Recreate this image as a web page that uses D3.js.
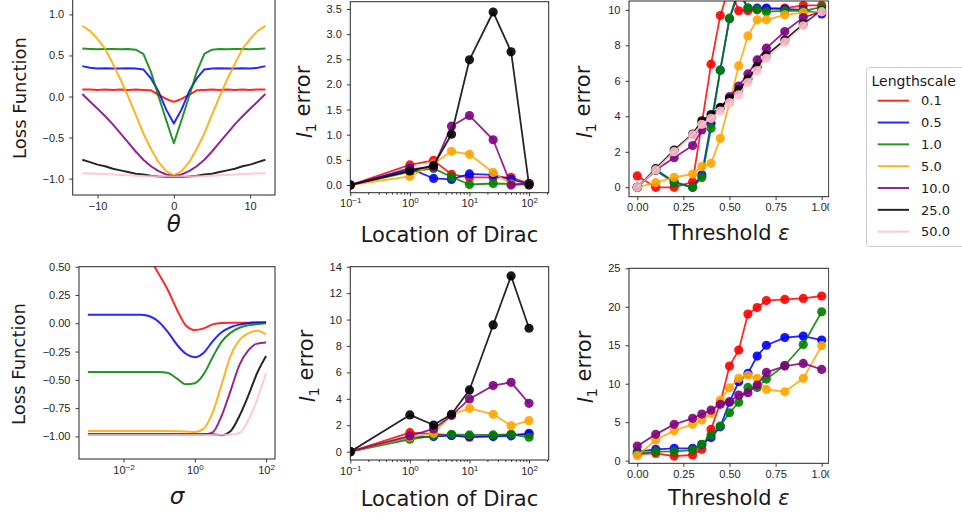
<!DOCTYPE html>
<html>
<head>
<meta charset="utf-8">
<script src="https://cdn.jsdelivr.net/npm/d3@7"></script>
<style>
body { margin: 0; background: #fff; }
svg { font-family: "DejaVu Sans", sans-serif; display: block; }
.tick text { font-size: 11px; fill: #262626; }
.domain { display: none; }
.tick line { stroke: #262626; stroke-width: 0.9; }
</style>
</head>
<body>
<div id="graph"></div>
<script>
var width = 962, height = 519;

var lengthscales = ["0.1", "0.5", "1.0", "5.0", "10.0", "25.0", "50.0"];
var colors = ["#ff0000", "#0000ff", "#008000", "#ffa500", "#800080", "#000000", "#ffc0cb"];

// top left: loss vs theta
var theta = [-12,-11,-10,-9,-8,-7,-6,-5,-4,-3,-2,-1,0,1,2,3,4,5,6,7,8,9,10,11,12];
var lossTheta = [
  [0.085,0.085,0.08,0.085,0.08,0.085,0.08,0.085,0.08,0.075,0.02,-0.03,-0.065,-0.03,0.02,0.075,0.08,0.085,0.08,0.085,0.08,0.085,0.08,0.085,0.085],
  [0.37,0.35,0.34,0.345,0.34,0.34,0.345,0.34,0.33,0.22,0.06,-0.16,-0.33,-0.16,0.06,0.22,0.33,0.34,0.345,0.34,0.34,0.345,0.34,0.35,0.37],
  [0.585,0.58,0.575,0.58,0.58,0.575,0.58,0.57,0.52,0.30,0.0,-0.29,-0.57,-0.29,0.0,0.30,0.52,0.57,0.58,0.575,0.58,0.58,0.575,0.58,0.585],
  [0.86,0.80,0.70,0.58,0.40,0.21,0.0,-0.22,-0.45,-0.64,-0.80,-0.91,-0.96,-0.91,-0.80,-0.64,-0.45,-0.22,0.0,0.21,0.40,0.58,0.70,0.80,0.86],
  [0.03,-0.06,-0.15,-0.24,-0.34,-0.45,-0.56,-0.67,-0.77,-0.85,-0.91,-0.95,-0.97,-0.95,-0.91,-0.85,-0.77,-0.67,-0.56,-0.45,-0.34,-0.24,-0.15,-0.06,0.03],
  [-0.77,-0.80,-0.83,-0.85,-0.88,-0.90,-0.92,-0.94,-0.95,-0.965,-0.975,-0.98,-0.98,-0.98,-0.975,-0.965,-0.95,-0.94,-0.92,-0.90,-0.88,-0.85,-0.83,-0.80,-0.77],
  [-0.935,-0.937,-0.94,-0.945,-0.95,-0.955,-0.96,-0.965,-0.97,-0.972,-0.975,-0.975,-0.975,-0.975,-0.975,-0.972,-0.97,-0.965,-0.96,-0.955,-0.95,-0.945,-0.94,-0.937,-0.935]
];

// bottom left: loss vs sigma
var sigma = [0.001,0.00316,0.01,0.0316,0.0562,0.1,0.178,0.316,0.562,1,1.78,3.16,5.62,10,17.8,31.6,56.2,100];
var lossSigma = [
  [2.0,1.5,1.1,0.72,0.57,0.43,0.29,0.12,-0.02,-0.06,-0.045,-0.01,0.003,0.005,0.005,0.005,0.007,0.007],
  [0.075,0.075,0.075,0.075,0.06,0.01,-0.08,-0.19,-0.27,-0.30,-0.26,-0.16,-0.08,-0.035,-0.012,0.0,0.007,0.01],
  [-0.43,-0.43,-0.43,-0.43,-0.43,-0.43,-0.44,-0.49,-0.54,-0.53,-0.45,-0.30,-0.165,-0.085,-0.04,-0.018,-0.008,0.0],
  [-0.952,-0.952,-0.952,-0.952,-0.952,-0.952,-0.953,-0.955,-0.957,-0.962,-0.93,-0.79,-0.545,-0.29,-0.15,-0.09,-0.066,-0.10],
  [-0.982,-0.982,-0.982,-0.982,-0.982,-0.982,-0.982,-0.982,-0.982,-0.982,-0.982,-0.965,-0.82,-0.60,-0.37,-0.24,-0.18,-0.17],
  [-0.982,-0.982,-0.982,-0.982,-0.982,-0.982,-0.982,-0.982,-0.982,-0.982,-0.982,-0.982,-0.99,-0.955,-0.82,-0.64,-0.44,-0.29],
  [-0.985,-0.985,-0.985,-0.985,-0.985,-0.985,-0.985,-0.985,-0.985,-0.985,-0.985,-0.985,-0.985,-0.985,-0.97,-0.86,-0.675,-0.44]
];

// middle column: l1 error vs location of dirac
var dirac = [0.1, 1, 2.5, 5, 10, 25, 50, 100];
var errDiracTop = [
  [0, 0.40, 0.49, 0.21, 0.15, 0.15, 0.15, 0.03],
  [0, 0.33, 0.13, 0.11, 0.22, 0.20, 0.11, 0.02],
  [0, 0.26, 0.33, 0.16, 0.01, 0.03, 0.02, 0.03],
  [0, 0.17, 0.42, 0.67, 0.61, 0.25, 0.02, 0.0],
  [0, 0.31, 0.36, 1.17, 1.38, 0.90, 0.0, 0.03],
  [0, 0.28, 0.39, 1.01, 2.49, 3.44, 2.65, 0.0]
];
var errDiracBottom = [
  [0, 1.44, 1.35, 1.25, 1.09, 1.20, 1.30, 1.30],
  [0, 1.10, 1.14, 1.22, 1.14, 1.14, 1.20, 1.39],
  [0, 0.94, 1.20, 1.31, 1.27, 1.27, 1.31, 1.09],
  [0, 1.10, 1.39, 2.80, 3.28, 2.83, 1.97, 2.35],
  [0, 1.19, 1.72, 2.73, 3.99, 5.00, 5.25, 3.66],
  [0, 2.78, 2.02, 2.83, 4.67, 9.59, 13.3, 9.34]
];

// right column: l1 error vs threshold
var eps = [0, 0.1, 0.2, 0.3, 0.35, 0.4, 0.45, 0.5, 0.55, 0.6, 0.65, 0.7, 0.8, 0.9, 1.0];
var errEpsTop = [
  [0.64,0.0,0.0,0.3,3.6,6.94,9.68,11.3,9.95,9.95,10.0,10.05,10.1,10.25,10.25],
  [0,1.0,0.3,0.0,0.7,3.6,6.6,9.5,11.0,10.1,10.1,10.1,10.05,10.0,9.77],
  [0,0.95,0.26,0.0,0.55,3.33,6.6,9.53,11.2,10.1,10.04,9.9,9.94,9.94,10.15],
  [0,0.26,0.56,0.75,1.17,1.35,2.76,4.77,6.84,8.53,9.44,9.44,9.72,9.85,9.9],
  [0,0.98,1.67,2.35,3.23,3.89,4.45,5.11,5.71,6.39,7.18,7.84,8.78,9.57,9.9],
  [0,1.05,2.1,3.0,3.75,4.1,4.5,5.0,5.5,6.1,6.8,7.45,8.3,9.2,9.95],
  [0,0.98,2.01,2.95,3.55,3.89,4.30,4.77,5.21,5.9,6.58,7.27,8.18,9.1,9.9]
];
var errEpsBottom = [
  [0.87,0.95,0.6,0.74,1.47,4.07,7.5,12.3,14.37,19.05,19.9,20.8,20.95,21.08,21.4],
  [1.17,1.47,1.6,1.6,2.1,3.0,4.4,7.6,10.26,11.34,13.6,15.0,16.0,16.2,15.67],
  [0.95,1.17,1.21,1.39,2.12,3.33,4.5,6.23,7.58,9.52,9.52,10.6,12.4,15.1,19.35],
  [0.65,2.68,3.9,4.72,5.28,6.15,7.88,9.48,10.7,11.1,10.7,9.26,8.96,10.7,14.94],
  [1.9,3.42,4.72,5.5,6.06,6.58,7.32,7.66,8.53,8.83,9.83,11.47,12.3,12.64,11.86]
];

var svg = d3.select('#graph').append('svg')
    .attr('width', width)
    .attr('height', height);

var clipN = 0;
var minus = function(s) { return s.replace("-", "\u2212"); };

function logLabels(sel) {
  sel.selectAll(".tick text").each(function(d) {
    var e = Math.round(Math.log10(d));
    var t = d3.select(this).text("");
    t.append("tspan").text("10");
    t.append("tspan").attr("dy", "-0.5em").style("font-size", "8px").text(minus(String(e)));
  });
}

function panel(o) {
  var g = svg.append("g");
  var x = (o.log ? d3.scaleLog() : d3.scaleLinear()).domain(o.xd).range([o.l, o.r]);
  var y = d3.scaleLinear().domain(o.yd).range([o.b, o.t]);
  var id = "clip" + (clipN++);
  svg.append("clipPath").attr("id", id).append("rect")
      .attr("x", o.l).attr("y", o.t).attr("width", o.r - o.l).attr("height", o.b - o.t);

  var plot = g.append("g").attr("clip-path", "url(#" + id + ")");
  var line = d3.line()
      .x(function(d) { return x(d[0]); })
      .y(function(d) { return y(d[1]); })
      .curve(o.curve || d3.curveLinear);

  o.series.forEach(function(vals, i) {
    var pts = o.xs.map(function(xv, j) { return [xv, vals[j]]; });
    var s = plot.append("g");
    s.append("path")
        .attr("d", line(pts))
        .attr("fill", "none")
        .attr("stroke", colors[i])
        .attr("stroke-width", o.markers ? 1.8 : 2)
        .attr("stroke-opacity", 0.85)
        .attr("stroke-linejoin", "round");
    if (o.markers) {
      s.selectAll("circle").data(pts).enter().append("circle")
          .attr("cx", function(d) { return x(d[0]); })
          .attr("cy", function(d) { return y(d[1]); })
          .attr("r", 4.6)
          .attr("fill", colors[i])
          .attr("fill-opacity", 0.9);
    }
  });

  g.append("rect")
      .attr("x", o.l).attr("y", o.t).attr("width", o.r - o.l).attr("height", o.b - o.t)
      .attr("fill", "none").attr("stroke", "#262626").attr("stroke-width", 1);

  var xa = d3.axisBottom(x).tickValues(o.xt).tickSize(3.5).tickPadding(3.5);
  if (o.xf) xa.tickFormat(o.xf);
  var gx = g.append("g").attr("transform", "translate(0," + o.b + ")").call(xa);
  if (o.log) {
    logLabels(gx);
    if (o.minor) {
      var dom = x.domain();
      var mt = o.minor.filter(function(v) { return v > dom[0] && v < dom[1]; });
      g.append("g").attr("transform", "translate(0," + o.b + ")")
          .call(d3.axisBottom(x).tickValues(mt).tickSize(2).tickFormat(""));
    }
  }
  var ya = d3.axisLeft(y).tickValues(o.yt).tickSize(3.5).tickPadding(5).tickFormat(o.yf);
  g.append("g").attr("transform", "translate(" + o.l + ",0)").call(ya);

  // axis labels
  var xl = g.append("text")
      .attr("x", (o.l + o.r) / 2).attr("y", o.xly)
      .attr("text-anchor", "middle").style("font-size", o.xls + "px").attr("fill", "#1a1a1a");
  o.xlabel(xl);
  var yl = g.append("text")
      .attr("transform", "translate(" + o.ylx + "," + o.yly + ") rotate(-90)")
      .attr("text-anchor", "middle").style("font-size", o.yls + "px").attr("fill", "#1a1a1a");
  o.ylabel(yl);
}

var lossLabel = function(t) { t.text("Loss Function"); };
var l1Label = function(t) {
  t.append("tspan").style("font-style", "italic").text("l");
  t.append("tspan").attr("dy", "0.3em").style("font-size", "14.5px").text("1");
  t.append("tspan").attr("dy", "-0.3em").text(" error");
};
var diracLabel = function(t) { t.text("Location of Dirac"); };
var epsLabel = function(t) {
  t.append("tspan").text("Threshold ");
  t.append("tspan").style("font-style", "italic").text("\u03b5");
};
var f1 = function(d) { return minus(d3.format(".1f")(d)); };
var f2 = function(d) { return minus(d3.format(".2f")(d)); };
var f0 = function(d) { return minus(d3.format("d")(d)); };

var minorTicks = [];
[0.1, 1, 10, 100].forEach(function(b) {
  for (var k = 2; k <= 9; k++) minorTicks.push(b * k);
});

// top row
panel({ l: 72.7, r: 275, t: -2, b: 195, xs: theta, series: lossTheta,
  xd: [-13.26, 13.26], yd: [-1.2, 1.2], xt: [-10, 0, 10], xf: f0,
  yt: [-1.0, -0.5, 0, 0.5, 1.0], yf: f1,
  xly: 232, xls: 23, xlabel: function(t) { t.style("font-style", "italic").text("\u03b8"); },
  ylx: 26, yly: 98, yls: 18, ylabel: lossLabel });

panel({ l: 350.3, r: 548.7, t: 1.7, b: 192.7, xs: dirac, series: errDiracTop, markers: true,
  log: true, xd: [0.1, Math.pow(10, 2.33)], yd: [-0.153, 3.645],
  xt: [0.1, 1, 10, 100], minor: minorTicks,
  yt: [0, 0.5, 1, 1.5, 2, 2.5, 3, 3.5], yf: f1,
  xly: 241.5, xls: 21, xlabel: diracLabel,
  ylx: 312, yly: 102, yls: 21, ylabel: l1Label });

panel({ l: 629, r: 828.7, t: 1, b: 196.7, xs: eps, series: errEpsTop, markers: true,
  xd: [-0.045, 1.038], yd: [-0.53, 10.5],
  xt: [0, 0.25, 0.5, 0.75, 1], xf: f2,
  yt: [0, 2, 4, 6, 8, 10], yf: f0,
  xly: 240, xls: 21, xlabel: epsLabel,
  ylx: 592, yly: 102, yls: 21, ylabel: l1Label });

// bottom row
panel({ l: 79, r: 275, t: 266.7, b: 459, xs: sigma, series: lossSigma, curve: d3.curveMonotoneX,
  log: true, xd: [Math.pow(10, -3.25), Math.pow(10, 2.25)], yd: [-1.2, 0.5],
  xt: [0.01, 1, 100],
  yt: [-1, -0.75, -0.5, -0.25, 0, 0.25, 0.5], yf: f2,
  xly: 503.5, xls: 23, xlabel: function(t) { t.style("font-style", "italic").text("\u03c3"); },
  ylx: 25, yly: 364, yls: 18, ylabel: lossLabel });

panel({ l: 350.3, r: 548.7, t: 266.7, b: 460, xs: dirac, series: errDiracBottom, markers: true,
  log: true, xd: [0.1, Math.pow(10, 2.33)], yd: [-0.63, 14],
  xt: [0.1, 1, 10, 100], minor: minorTicks,
  yt: [0, 2, 4, 6, 8, 10, 12, 14], yf: f0,
  xly: 505.5, xls: 21, xlabel: diracLabel,
  ylx: 315, yly: 366, yls: 21, ylabel: l1Label });

panel({ l: 629, r: 828.7, t: 268.3, b: 463.3, xs: eps, series: errEpsBottom, markers: true,
  xd: [-0.045, 1.038], yd: [-0.34, 25],
  xt: [0, 0.25, 0.5, 0.75, 1], xf: f2,
  yt: [0, 5, 10, 15, 20, 25], yf: f0,
  xly: 505, xls: 21, xlabel: epsLabel,
  ylx: 593, yly: 367, yls: 21, ylabel: l1Label });

// the right column is cut off just past its spine
svg.append("rect").attr("x", 829.3).attr("y", 0).attr("width", width - 829.3).attr("height", height)
    .attr("fill", "#fff");

// legend
var leg = svg.append("g");
leg.append("rect")
    .attr("x", 866.5).attr("y", 67.5).attr("width", 130).attr("height", 179)
    .attr("rx", 3).attr("fill", "#fff").attr("stroke", "#cccccc");
leg.append("text").attr("x", 871.5).attr("y", 85.5)
    .style("font-size", "14px").attr("fill", "#1a1a1a").text("Lengthscale");
var item = leg.selectAll(".item").data(lengthscales).enter().append("g")
    .attr("class", "item")
    .attr("transform", function(d, i) { return "translate(0," + (100.7 + i * 21.83) + ")"; });
item.append("line").attr("x1", 877.7).attr("x2", 909).attr("y1", 0).attr("y2", 0)
    .attr("stroke", function(d, i) { return colors[i]; }).attr("stroke-width", 2).attr("stroke-opacity", 0.85);
item.append("text").attr("x", 921).attr("y", 4.7)
    .style("font-size", "13px").attr("fill", "#1a1a1a")
    .text(function(d) { return d; });
</script>
</body>
</html>
